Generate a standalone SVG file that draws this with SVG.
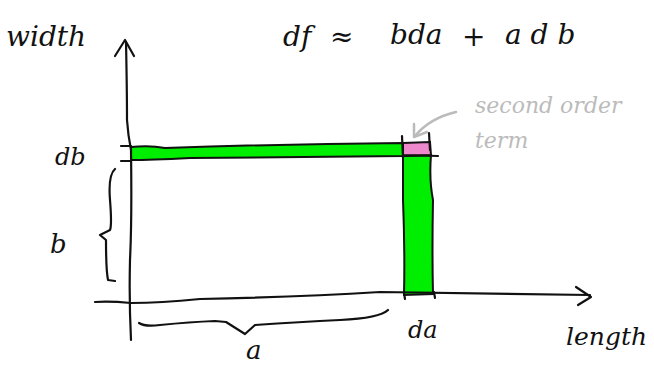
<svg xmlns="http://www.w3.org/2000/svg" width="654" height="366" viewBox="0 0 654 366">
<style>
.ink{fill:none;stroke:#111;stroke-width:2.2;stroke-linecap:round;stroke-linejoin:round}
.gray{fill:none;stroke:#bbb;stroke-width:2.5;stroke-linecap:round;stroke-linejoin:round}
.t{font-family:"DejaVu Serif","Liberation Serif",serif;font-style:italic;fill:#111}
.tg{font-family:"DejaVu Serif","Liberation Serif",serif;font-style:italic;fill:#bbb}
</style>
<rect width="654" height="366" fill="#fff"/>
<!-- green strips and pink square -->
<path d="M131 147 Q150 145 165 148 Q280 144 403 143 L403 156 Q300 157 190 158 Q150 160 131 160 Z" fill="#00ee00" stroke="#111" stroke-width="2"/>
<path d="M403 156 L431 155 Q429 180 433 200 Q432 250 433 294 L404 295 Q405 250 403 200 Z" fill="#00ee00" stroke="#111" stroke-width="2"/>
<path d="M403 143 L430 142 L431 155 L403 156 Z" fill="#ee88cc" stroke="#111" stroke-width="2"/>
<!-- axes -->
<path class="ink" d="M126 42 Q127 90 127 120 Q128 135 131 150 Q132 220 130 260 Q129 300 131 340"/>
<path class="ink" d="M115 56 L125 40 L134 56"/>
<path class="ink" d="M95 302 Q110 301 131 303 Q160 303 200 299 Q300 297 380 292 Q480 293 590 295"/>
<path class="ink" d="M576 287 L591 297 L578 305"/>
<!-- ticks -->
<path class="ink" d="M121 146 L131 146 M121 161 L131 161"/>
<path class="ink" d="M402 136 L403 158 M429 133 L430 150 M403 155 L438 156"/>
<path class="ink" d="M404 293 L405 299 M434 292 L435 298"/>
<!-- braces -->
<path class="ink" d="M115 169 Q108 175 110 200 Q112 225 110 230 L100 235 L106 240 Q106 270 108 280 L115 281"/>
<path class="ink" d="M139 323 Q145 327 160 325 Q190 322 215 321 L226 322 L245 334 L255 325 Q300 322 340 320 Q380 318 388 310"/>
<!-- gray arrow -->
<path class="gray" d="M456 112 Q430 118 415 136"/>
<path class="gray" d="M414 124 L414 137 L427 132"/>
<!-- labels -->
<text class="t" x="6" y="46" font-size="28">width</text>
<text class="t" x="283" y="46" font-size="28">df</text>
<text class="t" x="330" y="46" font-size="28">≈</text>
<text class="t" x="390" y="44" font-size="28">bda</text>
<text class="t" x="462" y="46" font-size="28">+</text>
<text class="t" x="505" y="44" font-size="28">a d b</text>
<text class="t" x="55" y="165" font-size="24">db</text>
<text class="t" x="50" y="253" font-size="26">b</text>
<text class="t" x="246" y="359" font-size="26">a</text>
<text class="t" x="408" y="338" font-size="24">da</text>
<text class="t" x="566" y="345" font-size="25">length</text>
<text class="tg" x="475" y="113" font-size="22">second order</text>
<text class="tg" x="475" y="148" font-size="22">term</text>
</svg>
